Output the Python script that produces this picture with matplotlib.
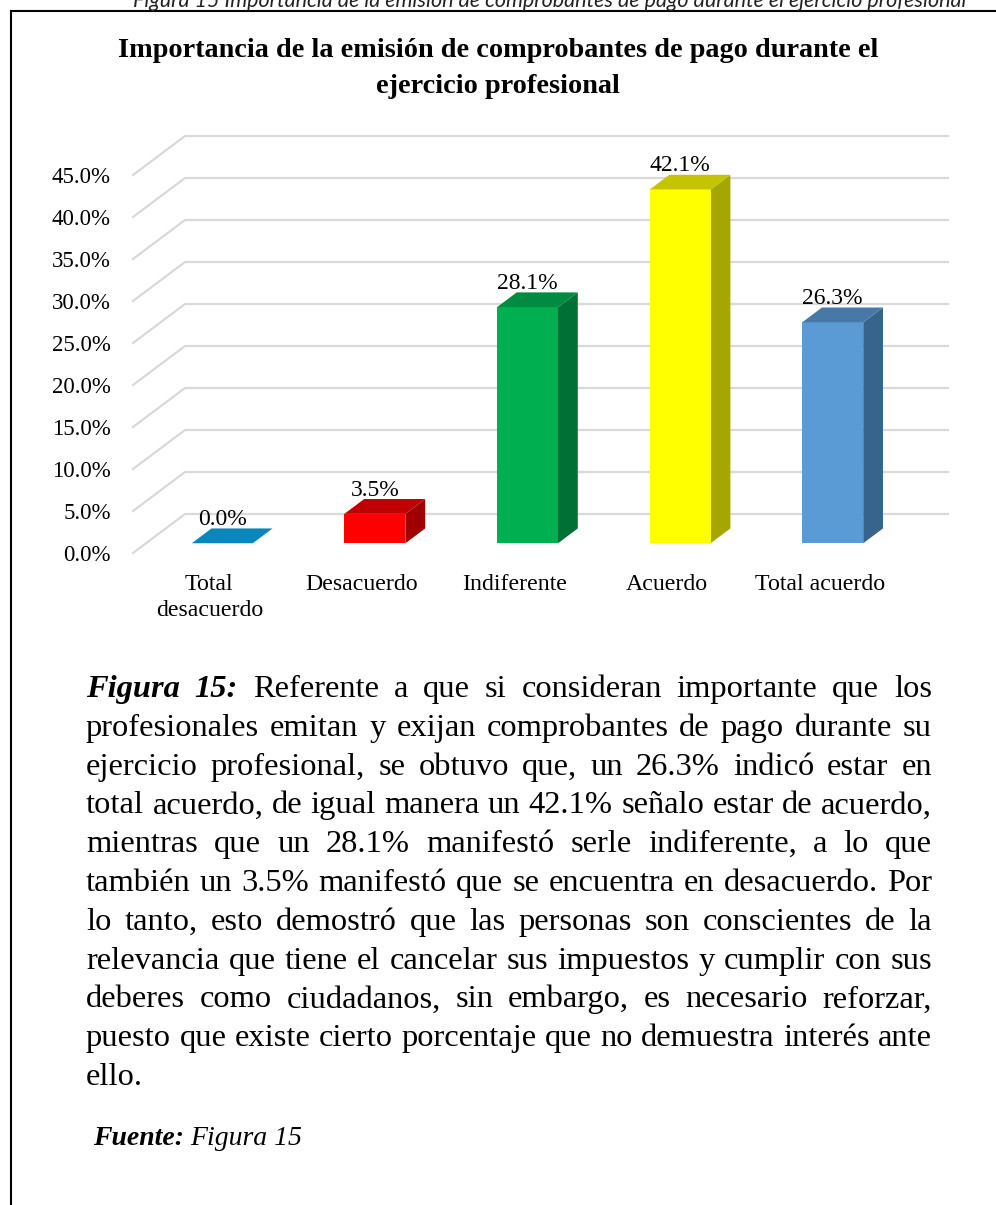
import matplotlib
matplotlib.use("Agg")
import matplotlib.pyplot as plt
from matplotlib.patches import Polygon, Rectangle
from matplotlib.lines import Line2D

plt.rcParams["font.family"] = "Liberation Serif"

# data
categories = ["Total\ndesacuerdo", "Desacuerdo", "Indiferente", "Acuerdo", "Total acuerdo"]
values = [0.0, 3.5, 28.1, 42.1, 26.3]
tick_values = [0, 5, 10, 15, 20, 25, 30, 35, 40, 45]

front_colors = ["#0b86bb", "#ff0000", "#00b050", "#ffff00", "#5b9bd5"]
top_colors = ["#0b86bb", "#c00000", "#008c40", "#c4c400", "#4878a8"]
side_colors = ["#086a94", "#a00000", "#007034", "#a6a600", "#37648c"]

title_lines = ["Importancia de la emisión de comprobantes de pago durante el",
               "ejercicio profesional"]
caption_top = "Figura 15 Importancia de la emisión de comprobantes de pago durante el ejercicio profesional"

paragraph_lines = [
    "Figura 15: Referente a que si consideran importante que los",
    "profesionales emitan y exijan comprobantes de pago durante su",
    "ejercicio profesional, se obtuvo que, un 26.3% indicó estar en",
    "total acuerdo, de igual manera un 42.1% señalo estar de acuerdo,",
    "mientras que un 28.1% manifestó serle indiferente, a lo que",
    "también un 3.5% manifestó que se encuentra en desacuerdo. Por",
    "lo tanto, esto demostró que las personas son conscientes de la",
    "relevancia que tiene el cancelar sus impuestos y cumplir con sus",
    "deberes como ciudadanos, sin embargo, es necesario reforzar,",
    "puesto que existe cierto porcentaje que no demuestra interés ante",
    "ello.",
]

W, H = 996, 1205
fig = plt.figure(figsize=(W / 100, H / 100), dpi=100)
renderer = fig.canvas.get_renderer()


def fx(x):
    return x / W


def fy(y):
    return 1 - y / H


def text_width(s, **kw):
    t = fig.text(0, 0, s, **kw)
    w = t.get_window_extent(renderer).width
    t.remove()
    return w


# frame around the figure block
fig.add_artist(Line2D([fx(11), fx(11)], [fy(11), fy(H)], color="black", lw=1.5))
fig.add_artist(Line2D([fx(11), fx(W)], [fy(11), fy(11)], color="black", lw=1.5))

# caption of the page, cut at the top like in the scan
fig.text(fx(550), fy(7), caption_top, ha="center", va="baseline", fontsize=15.5,
         family="Lato", style="italic", color="#222222")

# title, sized so the first line spans the same width as the original
tw = text_width(title_lines[0], fontsize=20, weight="bold")
title_size = 20 * 760 / tw
for line, base in zip(title_lines, [57, 93]):
    fig.text(fx(498), fy(base), line, ha="center", va="baseline",
             fontsize=title_size, weight="bold")

# chart area (front plane of the 3D box)
ax = fig.add_axes([fx(133), fy(553), 763 / W, 378 / H])
ax.set_xlim(-0.5, 4.5)
ax.set_ylim(0, 45)
for s in ax.spines.values():
    s.set_visible(False)

px_cat = 763 / 5
px_pct = 378 / 45
wall_dx = 52 / px_cat
wall_dy = 39 / px_pct

for v in tick_values:
    ax.plot([-0.5, -0.5 + wall_dx, 4.5 + wall_dx], [v, v + wall_dy, v + wall_dy],
            color="#d9d9d9", lw=1.6, clip_on=False, zorder=1)

bar_w = 0.4
f0 = 0.25
fd = 0.38
bdx = fd * wall_dx
bdy = fd * wall_dy

for i, v in enumerate(values):
    xc = i + f0 * wall_dx
    y0 = f0 * wall_dy
    xl, xr = xc - bar_w / 2, xc + bar_w / 2
    top = y0 + v
    side = Polygon([(xr, y0), (xr + bdx, y0 + bdy), (xr + bdx, top + bdy), (xr, top)],
                   closed=True, fc=side_colors[i], ec="none", clip_on=False, zorder=3)
    ax.add_patch(side)
    if v > 0:
        ax.add_patch(Rectangle((xl, y0), bar_w, v, fc=front_colors[i], ec="none",
                               clip_on=False, zorder=3))
    lid = Polygon([(xl, top), (xr, top), (xr + bdx, top + bdy), (xl + bdx, top + bdy)],
                  closed=True, fc=top_colors[i], ec="none", clip_on=False, zorder=3)
    ax.add_patch(lid)
    ax.annotate(f"{v:.1f}%", (xc, top), xytext=(0, 17), textcoords="offset points",
                ha="center", va="center", fontsize=17, zorder=5)

ax.set_yticks(tick_values)
ax.set_yticklabels([f"{v:.1f}%" for v in tick_values])
ax.set_xticks(range(len(categories)))
ax.set_xticklabels(categories, linespacing=1.3)
ax.tick_params(axis="y", length=0, pad=16, labelsize=16.5)
ax.tick_params(axis="x", length=0, pad=15, labelsize=17.2)

# justified paragraph: font sized so the longest line is naturally spaced
left, right = 86, 932
sizes = []
for line in paragraph_lines[1:-1]:
    words = line.split()
    wsum = sum(text_width(w, fontsize=20) for w in words)
    sizes.append((right - left) / (wsum / 20 + (len(words) - 1) * 0.26 * 100 / 72))
par_size = min(sizes)

base0, step = 697, 38.8
for k, line in enumerate(paragraph_lines):
    words = line.split()
    arts = []
    for j, word in enumerate(words):
        emph = k == 0 and j < 2
        t = fig.text(0, 0, word, fontsize=par_size, va="baseline", ha="left",
                     weight="bold" if emph else "normal",
                     style="italic" if emph else "normal")
        arts.append(t)
    widths = [t.get_window_extent(renderer).width for t in arts]
    if k == len(paragraph_lines) - 1 or len(words) == 1:
        gap = 0.25 * par_size * 100 / 72
    else:
        gap = (right - left - sum(widths)) / (len(words) - 1)
    x = left
    y = base0 + step * k
    for t, w in zip(arts, widths):
        t.set_position((fx(x), fy(y)))
        x += w + gap

# source line, sized to the width it has in the original
fw = text_width("Fuente: Figura 15", fontsize=20, style="italic")
src_size = 20 * 205 / fw
t1 = fig.text(fx(93), fy(1145), "Fuente:", fontsize=src_size, weight="bold",
              style="italic", va="baseline", ha="left")
w1 = t1.get_window_extent(renderer).width
fig.text(fx(93 + w1 + src_size * 0.3), fy(1145), "Figura 15", fontsize=src_size,
         style="italic", va="baseline", ha="left")

fig.savefig("out.png", dpi=100)
